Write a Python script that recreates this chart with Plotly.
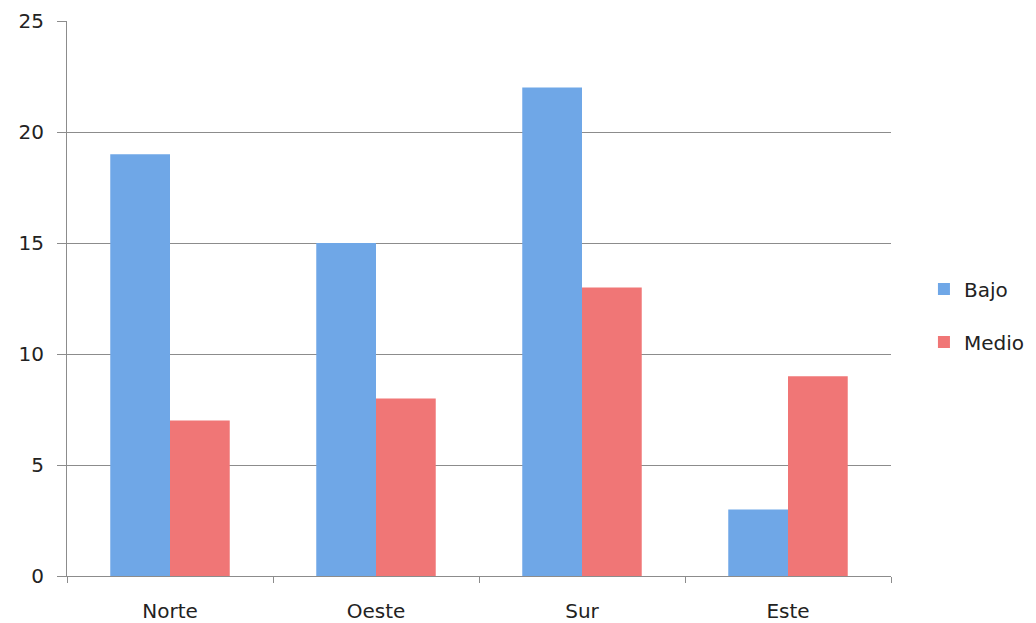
import plotly.graph_objects as go

# Dados
regioes = ["Norte", "Oeste", "Sur", "Este"]
bajo = [19, 15, 22, 3]
medio = [7, 8, 13, 9]

# Cores
azul = "#6FA7E7"
vermelho = "#F07676"
grade = "#8C8C8C"
fonte = "DejaVu Sans"

fig = go.Figure()
fig.add_trace(go.Bar(x=regioes, y=bajo, name="Bajo", marker_color=azul,
                     marker_line_width=0, legendgroup="a"))
fig.add_trace(go.Bar(x=regioes, y=medio, name="Medio", marker_color=vermelho,
                     marker_line_width=0, legendgroup="b"))

# a página tem margem de 8px, então a figura é um pouco menor que a janela
fig.update_layout(
    width=1028,
    height=615,
    margin=dict(l=59, r=145, t=13, b=47),
    paper_bgcolor="white",
    plot_bgcolor="white",
    barmode="group",
    bargap=0.42,
    bargroupgap=0,
    font=dict(family=fonte, size=20, color="#222"),
    # legenda posicionada no container para não empurrar a margem
    legend=dict(xref="container", yref="container", x=0.891, y=0.50,
                xanchor="left", yanchor="middle",
                tracegroupgap=24, itemwidth=30, font=dict(size=20)),
)

fig.update_xaxes(
    automargin=False,
    showgrid=False,
    showline=True, linecolor=grade, linewidth=1,
    ticks="outside", tickson="boundaries", ticklen=6, tickcolor=grade,
    ticklabelstandoff=17,
    tickfont=dict(size=20),
)
fig.update_yaxes(
    automargin=False,
    range=[0, 25], dtick=5,
    showgrid=True, gridcolor=grade, gridwidth=1,
    showline=True, linecolor=grade, linewidth=1,
    ticks="outside", ticklen=9, tickcolor=grade,
    ticklabelstandoff=9,
    zeroline=False,
    tickfont=dict(size=20),
)

fig.write_html("out.html")
